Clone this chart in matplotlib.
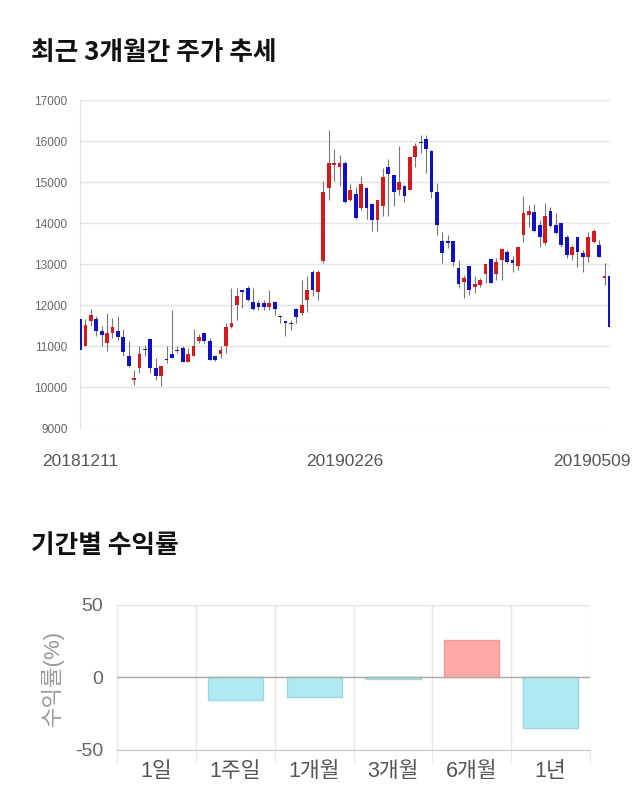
import matplotlib
matplotlib.use("Agg")
import matplotlib.pyplot as plt
import matplotlib.transforms as mtransforms

plt.rcParams['font.family'] = ['Liberation Sans', 'Noto Sans CJK KR']
plt.rcParams['axes.unicode_minus'] = False

# daily candles, 20181211 .. 20190509 (open, high, low, close)
opens = [11650, 11010, 11610, 11670, 11375, 11075, 11320, 11365, 11220, 10765,
         10165, 10465, 10920, 11170, 10465, 10275, 10680, 10810, 10910, 10960,
         10620, 10765, 11115, 11310, 11115, 10765, 10810, 11010, 11465, 12010,
         12360, 12415, 12065, 12050, 12050, 11950, 12065, 11720, 11600, 11565,
         11900, 11805, 12115, 12805, 12315, 13065, 14855, 15415, 15365, 15465,
         14555, 14715, 14365, 14855, 14465, 14065, 14405, 15365, 15160, 14815,
         14910, 14815, 15610, 15950, 16050, 15755, 14765, 13565, 13550, 13570,
         12900, 12550, 12955, 12450, 12500, 12760, 13115, 12755, 13100, 13300,
         13100, 12950, 13710, 14205, 14260, 13945, 13505, 14300, 13950, 13990,
         13650, 13220, 13650, 13260, 13165, 13545, 13465, 12650, 12710]
highs = [11680, 11660, 11900, 11740, 11480, 11800, 11675, 11720, 11415, 11115,
         10420, 10990, 11030, 11170, 10710, 10520, 11010, 11870, 10990, 10990,
         10950, 11415, 11300, 11320, 11195, 10770, 10990, 11560, 12410, 12415,
         12375, 12455, 12415, 12130, 12130, 12375, 12065, 11765, 11610, 11625,
         11925, 12620, 12700, 12845, 12845, 15015, 16260, 15805, 15665, 15505,
         14960, 14880, 15140, 14880, 14465, 14570, 15340, 15560, 15160, 15870,
         14920, 15625, 15950, 16145, 16145, 15780, 14970, 13790, 13710, 13570,
         13100, 12735, 12955, 12710, 12650, 13000, 13115, 13140, 13380, 13330,
         13195, 13420, 14660, 14440, 14465, 14075, 14500, 14400, 14250, 14010,
         13710, 13465, 13650, 13340, 13790, 13845, 13585, 13015, 13015]
lows = [10870, 11000, 11480, 11235, 10990, 10870, 11195, 11150, 10750, 10490,
        10055, 10340, 10750, 10340, 10180, 10015, 10585, 10705, 10830, 10600,
        10600, 10750, 11075, 11075, 10650, 10625, 10705, 10830, 11450, 11640,
        11925, 12090, 11885, 11885, 11885, 11885, 11765, 11560, 11250, 11400,
        11560, 11765, 11820, 12210, 12115, 13025, 14570, 15015, 14910, 14490,
        14530, 14100, 14325, 14100, 13800, 13800, 14165, 14165, 14405, 14690,
        14505, 14800, 15365, 15700, 15210, 14600, 13710, 13020, 13385, 12940,
        12410, 12170, 12250, 12290, 12450, 12530, 12545, 12610, 12610, 13030,
        12815, 12855, 13545, 13910, 13790, 13420, 13465, 13895, 13730, 13425,
        13140, 13100, 12920, 12815, 13055, 13505, 13165, 12490, 11470]
closes = [10900, 11510, 11760, 11375, 11260, 11320, 11460, 11220, 10860, 10520,
          10220, 10810, 10930, 10465, 10275, 10520, 10650, 10705, 10870, 10620,
          10810, 11010, 11220, 11115, 10665, 10665, 10910, 11465, 11560, 12210,
          12315, 12130, 11900, 11950, 11950, 12050, 11900, 11705, 11560, 11555,
          11710, 12000, 12360, 12360, 12805, 14750, 15465, 15465, 15465, 14505,
          14815, 14115, 14960, 14365, 14065, 14570, 15115, 15205, 14765, 15010,
          14650, 15610, 15870, 15965, 15800, 14765, 13955, 13265, 13505, 13060,
          12510, 12655, 12370, 12515, 12605, 13000, 12545, 13055, 13360, 13055,
          13015, 13410, 14250, 14300, 13815, 13665, 14170, 13925, 13750, 13465,
          13220, 13405, 13300, 13165, 13650, 13815, 13165, 12710, 11470]
date_ticks = [0, 49, 98]
date_labels = ["20181211", "20190226", "20190509"]

periods = ["1일", "1주일", "1개월", "3개월", "6개월", "1년"]
returns = [0.0, -15.2, -13.2, -1.1, 26.1, -35.0]

fig = plt.figure(figsize=(6.4, 8.1), dpi=100)

title_font = ['Noto Sans CJK KR', 'DejaVu Sans']
fig.text(0.048, 0.935, "최근 3개월간 주가 추세", fontsize=18.5, fontweight='bold',
         color='#111111', va='center', ha='left', family=title_font)
fig.text(0.048, 0.327, "기간별 수익률", fontsize=18.5, fontweight='bold',
         color='#111111', va='center', ha='left', family=title_font)

# --- candlestick chart ---
ax = fig.add_axes([0.125, 0.4716, 0.828, 0.4049])
xs = list(range(len(opens)))
ax.vlines(xs, lows, highs, color='#777777', linewidth=0.8, zorder=2)
for i in xs:
    o, c = opens[i], closes[i]
    col = '#d41a1a' if c >= o else '#1010c8'
    if abs(c - o) < 20:
        col = '#333333'
    h = max(abs(c - o), 25)
    ax.bar(i, h, bottom=min(o, c) - (h - abs(c - o)) / 2, width=0.7,
           color=col, linewidth=0, zorder=3)

ax.set_xlim(0, 98)
ax.set_ylim(9000, 17000)
ax.set_yticks(range(9000, 17001, 1000))
ax.yaxis.grid(True, color='#e3e3e3', linewidth=1)
ax.set_axisbelow(True)
for s in ['top', 'right', 'bottom']:
    ax.spines[s].set_visible(False)
ax.spines['left'].set_color('#e3e3e3')
ax.tick_params(axis='y', length=0, labelsize=8.5, labelcolor='#666666', pad=9)
ax.set_xticks(date_ticks)
ax.set_xticklabels(date_labels)
ax.tick_params(axis='x', length=0, labelsize=12.5, labelcolor='#555555', pad=19)
last = ax.get_xticklabels()[-1]
last.set_horizontalalignment('right')
last.set_transform(last.get_transform() +
                   mtransforms.ScaledTranslation(0.21, 0, fig.dpi_scale_trans))

# --- return bar chart ---
bx = fig.add_axes([0.183, 0.0741, 0.739, 0.179])
bar_cols = ['#ffa8a8' if v > 0 else '#b0e9f2' for v in returns]
edge_cols = ['#f09a9a' if v > 0 else '#9bd6e0' for v in returns]
widths = [1 if v != 0 else 0 for v in returns]
bx.bar(range(len(periods)), returns, width=0.7, color=bar_cols,
       edgecolor=edge_cols, linewidth=widths, zorder=3)
bx.set_xlim(-0.5, 5.5)
bx.set_ylim(-50, 50)
bx.set_yticks([-50, 0, 50])
bx.set_xticks(range(len(periods)))
bx.set_xticklabels(periods)
bx.set_xticks([k - 0.5 for k in range(len(periods) + 1)], minor=True)
bx.xaxis.grid(True, which='minor', color='#e6e6e6', linewidth=1)
bx.yaxis.grid(True, color='#e3e3e3', linewidth=1)
bx.axhline(0, color='#aaaaaa', linewidth=1, zorder=4)
bx.set_axisbelow(True)
for s in ['top', 'right', 'left']:
    bx.spines[s].set_visible(False)
bx.spines['bottom'].set_color('#c8c8c8')
bx.tick_params(axis='x', which='major', length=0, labelsize=15.5,
               labelcolor='#555555', pad=8)
bx.tick_params(axis='x', which='minor', length=10, color='#e6e6e6')
bx.tick_params(axis='y', length=0, labelsize=14, labelcolor='#666666', pad=10)
bx.set_ylabel("수익률(%)", fontsize=16, color='#999999', labelpad=8)

fig.savefig("out.png", dpi=100)
